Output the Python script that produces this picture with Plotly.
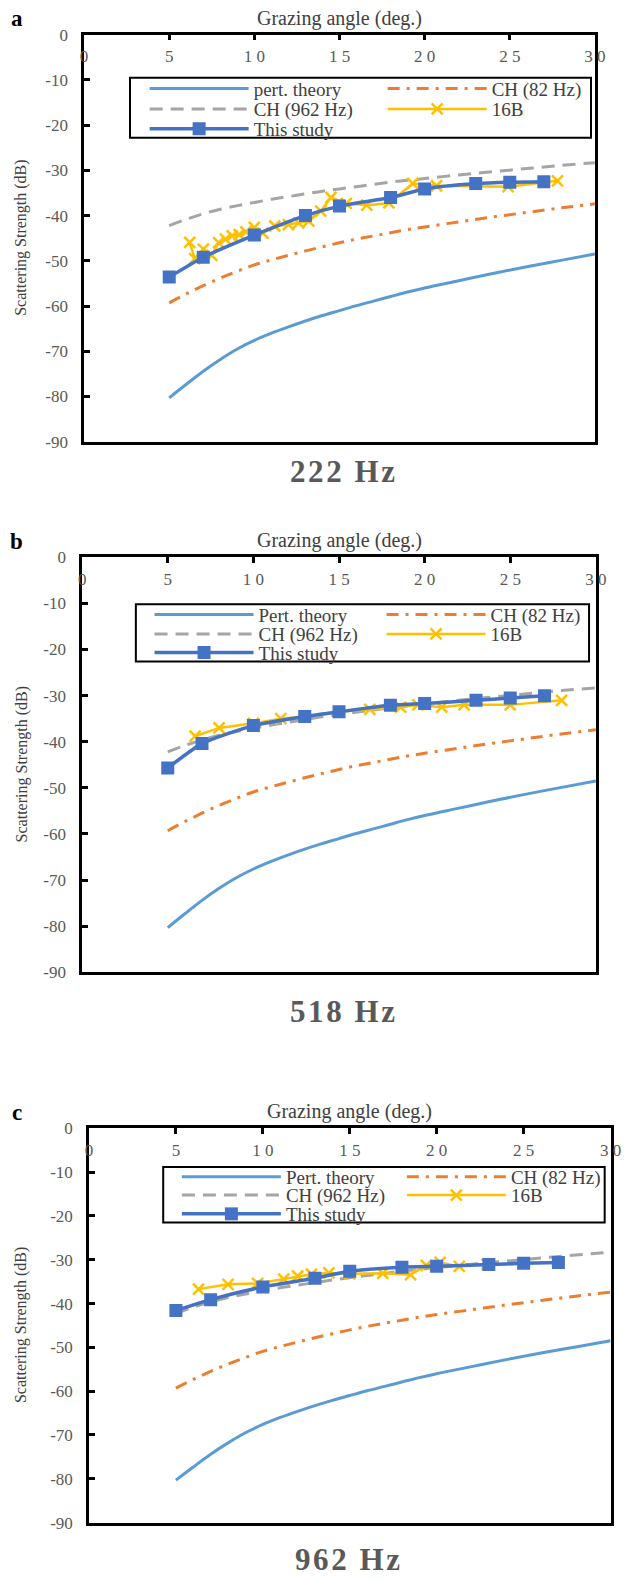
import plotly.graph_objects as go

# ---------------- data ----------------
x_theory = [5, 6, 7, 8, 9, 10, 11, 12, 13, 14, 15, 16, 17, 18, 19, 20, 22, 24, 26, 28, 30]
pert_theory = [-80.3, -77.3, -74.4, -71.8, -69.5, -67.6, -66.0, -64.6, -63.3, -62.1, -61.0,
               -59.9, -58.9, -57.9, -56.9, -56.0, -54.4, -52.8, -51.3, -49.9, -48.5]
ch_82 = [-59.3, -57.3, -55.5, -53.8, -52.3, -50.9, -49.8, -48.8, -47.8, -46.9, -46.0,
         -45.2, -44.5, -43.8, -43.1, -42.5, -41.4, -40.3, -39.3, -38.3, -37.4]
ch_962 = [-42.2, -40.8, -39.6, -38.6, -37.8, -37.1, -36.4, -35.8, -35.2, -34.6, -34.1,
          -33.6, -33.1, -32.6, -32.2, -31.8, -31.0, -30.3, -29.6, -28.9, -28.3]

study_x = [5, 7, 10, 13, 15, 18, 20, 23, 25, 27]
study_222 = [-53.6, -49.2, -44.3, -40.0, -37.9, -36.0, -34.1, -32.9, -32.6, -32.5]
study_518 = [-45.7, -40.4, -36.5, -34.5, -33.5, -32.1, -31.7, -31.0, -30.5, -30.0]
study_962 = [-41.6, -39.1, -36.2, -34.2, -32.6, -31.7, -31.5, -31.1, -30.8, -30.6]

b16_x_222 = [6.2, 6.5, 7.0, 7.5, 7.9, 8.3, 8.7, 9.1, 9.5, 10.0, 10.5, 11.2, 12.0, 12.6,
             13.2, 13.9, 14.5, 15.4, 16.6, 17.9, 19.3, 20.7, 24.9, 27.8]
b16_y_222 = [-45.9, -49.5, -47.4, -48.8, -46.0, -45.2, -44.5, -44.2, -43.6, -42.6, -43.9, -42.3,
             -42.0, -41.6, -41.2, -39.0, -36.0, -37.3, -37.7, -37.2, -32.9, -33.4, -33.6, -32.3]
b16_x_518 = [6.6, 8.0, 10.0, 11.6, 13.0, 15.0, 16.8, 18.6, 19.6, 21.0, 22.3, 25.0, 28.0]
b16_y_518 = [-38.8, -37.0, -36.0, -35.0, -34.5, -33.5, -33.0, -32.5, -32.0, -32.5, -32.0, -32.0, -31.0]
b16_x_962 = [6.3, 8.0, 9.7, 11.2, 12.0, 12.8, 13.8, 15.0, 16.9, 18.5, 19.4, 20.2, 21.3, 22.9]
b16_y_962 = [-36.7, -35.6, -35.4, -34.4, -33.7, -33.3, -33.0, -33.2, -33.1, -33.4, -31.3, -30.6, -31.5, -31.0]

xtick_vals = [0, 5, 10, 15, 20, 25, 30]
xtick_labels = ["0", "5", "1 0", "1 5", "2 0", "2 5", "3 0"]
ytick_vals = [0, -10, -20, -30, -40, -50, -60, -70, -80, -90]
ytick_labels = ["0", "-10", "-20", "-30", "-40", "-50", "-60", "-70", "-80", "-90"]

freq_titles = ["222 Hz", "518 Hz", "962 Hz"]
panel_letters = ["a", "b", "c"]
pert_names = ["pert. theory", "Pert. theory", "Pert. theory"]
study_series = [study_222, study_518, study_962]
b16_series = [(b16_x_222, b16_y_222), (b16_x_518, b16_y_518), (b16_x_962, b16_y_962)]

# ---------------- layout geometry (pixels; legend rows in dB units of each panel) ----------------
W, H = 644, 1581
panels = [
    dict(x0=82, x1=605, y0=26, y1=438, letter_y=10, title_y=468, title_x=347, graz_y=10,
         box_x=(129, 601), box_db=(-9.5, -22.8), rows_db=(-11.9, -16.4, -20.8), leg_x=144, ew=124),
    dict(x0=80, x1=606, y0=555, y1=975, letter_y=539, title_y=1015, title_x=347, graz_y=538,
         box_x=(135, 599), box_db=(-10.2, -22.6), rows_db=(-12.4, -16.6, -20.6), leg_x=149, ew=118),
    dict(x0=87, x1=621, y0=1133, y1=1532, letter_y=1117, title_y=1569, title_x=352, graz_y=1116,
         box_x=(163, 615), box_db=(-8.8, -21.5), rows_db=(-11.0, -15.2, -19.5), leg_x=177, ew=111),
]

def px(x):
    return x / W

def py(y):
    return 1 - y / H

def y_of_db(v, p):
    return p["y0"] + (-v) / 90.0 * (p["y1"] - p["y0"])

SERIF = "Liberation Serif"
C_PERT = "#5B9BD5"
C_CH82 = "#ED7D31"
C_CH962 = "#A5A5A5"
C_16B = "#FFC000"
C_STUDY = "#4472C4"

fig = go.Figure()
layout = dict(
    width=W, height=H, margin=dict(l=0, r=0, t=0, b=0),
    paper_bgcolor="white", plot_bgcolor="white",
    showlegend=True, annotations=[], shapes=[],
)

leg_counter = 0
def next_legend():
    global leg_counter
    leg_counter += 1
    return "legend" if leg_counter == 1 else f"legend{leg_counter}"

for i, p in enumerate(panels):
    n = "" if i == 0 else str(i + 1)
    xa, ya = "x" + n, "y" + n
    legs = [next_legend() for _ in range(3)]

    fig.add_trace(go.Scatter(x=x_theory, y=pert_theory, mode="lines", name=pert_names[i],
                             line=dict(color=C_PERT, width=3, shape="spline"),
                             xaxis=xa, yaxis=ya, legend=legs[0]))
    fig.add_trace(go.Scatter(x=x_theory, y=ch_82, mode="lines", name="CH (82 Hz)",
                             line=dict(color=C_CH82, width=3, dash="12px,7px,3px,7px", shape="spline"),
                             xaxis=xa, yaxis=ya, legend=legs[0]))
    fig.add_trace(go.Scatter(x=x_theory, y=ch_962, mode="lines", name="CH (962 Hz)",
                             line=dict(color=C_CH962, width=3, dash="13px,8px", shape="spline"),
                             xaxis=xa, yaxis=ya, legend=legs[1]))
    bx, by = b16_series[i]
    fig.add_trace(go.Scatter(x=bx, y=by, mode="lines+markers", name="16B",
                             line=dict(color=C_16B, width=2.5),
                             marker=dict(symbol="x-thin", size=11, color=C_16B,
                                         line=dict(width=2.5, color=C_16B)),
                             xaxis=xa, yaxis=ya, legend=legs[1]))
    fig.add_trace(go.Scatter(x=study_x, y=study_series[i], mode="lines+markers", name="This study",
                             line=dict(color=C_STUDY, width=3.5, shape="spline", smoothing=0.6),
                             marker=dict(symbol="square", size=13, color=C_STUDY),
                             xaxis=xa, yaxis=ya, legend=legs[2]))

    layout["xaxis" + n] = dict(
        domain=[px(p["x0"]), px(p["x1"])], range=[0, 30], anchor=ya, side="top",
        tickmode="array", tickvals=xtick_vals, ticktext=xtick_labels,
        ticks="inside", ticklen=6, tickwidth=2.5, tickcolor="black",
        ticklabelposition="inside", ticklabeloverflow="allow", ticklabelstandoff=10,
        showline=True, linecolor="black", linewidth=2.5, mirror=True,
        showgrid=False, zeroline=False,
        tickfont=dict(family=SERIF, size=17, color="#595959"),
    )
    layout["yaxis" + n] = dict(
        domain=[py(p["y1"]), py(p["y0"])], range=[-90, 0], anchor=xa,
        tickmode="array", tickvals=ytick_vals, ticktext=ytick_labels,
        ticks="inside", ticklen=6, tickwidth=2.5, tickcolor="black",
        ticklabelstandoff=10,
        showline=True, linecolor="black", linewidth=2.5, mirror=True,
        showgrid=False, zeroline=False,
        tickfont=dict(family=SERIF, size=17, color="#595959"),
    )

    for r, lg in enumerate(legs):
        yc = y_of_db(p["rows_db"][r], p)
        layout[lg] = dict(
            x=px(p["leg_x"]), y=py(yc - 19), xanchor="left", yanchor="top",
            orientation="h", bgcolor="rgba(0,0,0,0)", borderwidth=0,
            font=dict(family=SERIF, size=19, color="#404040"),
            itemwidth=99, entrywidth=p["ew"], entrywidthmode="pixels",
            tracegroupgap=0, itemclick=False, itemdoubleclick=False,
        )

    bx0, bx1 = p["box_x"]
    by0 = y_of_db(p["box_db"][0], p)
    by1 = y_of_db(p["box_db"][1], p)
    layout["shapes"].append(dict(type="rect", xref="paper", yref="paper",
                                 x0=px(bx0), x1=px(bx1), y0=py(by1), y1=py(by0),
                                 line=dict(color="black", width=2), fillcolor="white",
                                 layer="above"))

    cx = (p["x0"] + p["x1"]) / 2
    cy = (p["y0"] + p["y1"]) / 2
    layout["annotations"] += [
        dict(text="Grazing angle (deg.)", xref="paper", yref="paper", x=px(cx), y=py(p["graz_y"]),
             xanchor="center", yanchor="middle", showarrow=False,
             font=dict(family=SERIF, size=20, color="#404040")),
        dict(text="Scattering Strength (dB)", xref="paper", yref="paper", x=px(18), y=py(cy),
             xanchor="center", yanchor="middle", showarrow=False, textangle=-90,
             font=dict(family=SERIF, size=16, color="#404040")),
        dict(text="<b>" + panel_letters[i] + "</b>", xref="paper", yref="paper", x=px(13),
             y=py(p["letter_y"]), xanchor="center", yanchor="middle", showarrow=False,
             font=dict(family=SERIF, size=23, color="black")),
        dict(text="<b>" + "\u200a".join(freq_titles[i]) + "</b>", xref="paper", yref="paper",
             x=px(p["title_x"]), y=py(p["title_y"]), xanchor="center", yanchor="middle",
             showarrow=False, font=dict(family=SERIF, size=31, color="#595959")),
    ]

fig.update_layout(**layout)
fig.write_html("out.html", config={"displayModeBar": False})
